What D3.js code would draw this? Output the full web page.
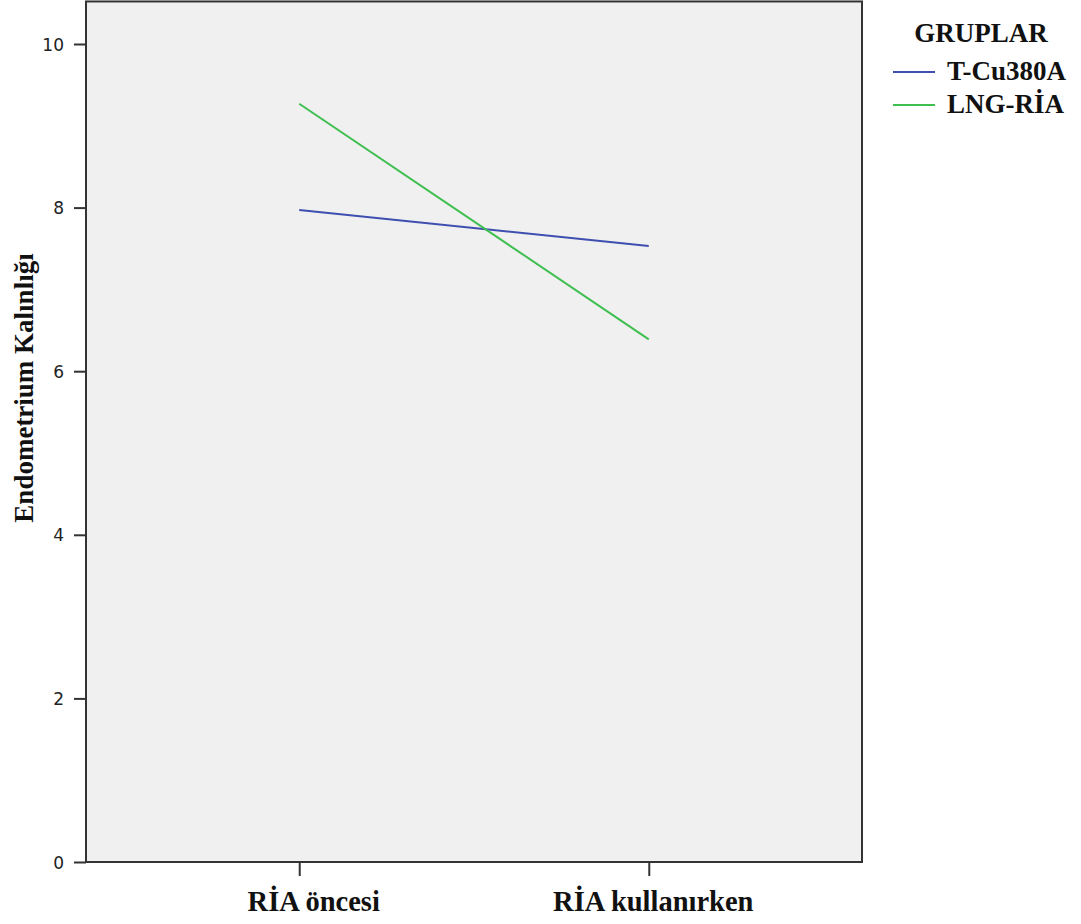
<!DOCTYPE html>
<html><head><meta charset="utf-8">
<script src="https://cdn.jsdelivr.net/npm/d3@7"></script>
<style>html,body{margin:0;padding:0;background:#fff;}</style>
</head><body>
<svg id="c" width="1081" height="924"></svg>
<script>
const categories = ["RİA öncesi", "RİA kullanırken"];
const groups = ["T-Cu380A", "LNG-RİA"];
const tcuValues = [7.97, 7.53];
const lngValues = [9.27, 6.39];
const yTicks = [0, 2, 4, 6, 8, 10];
const colors = ["#3f4fb0", "#3fbf50"];
const labelShift = [14, 4];

const svg = d3.select("#c");
const L = 86, R = 862, B = 862;
const y = d3.scaleLinear().domain([0, 10]).range([B, 44]);
const T = y(10.52);
const x = d3.scalePoint().domain(categories).range([L, R]).padding(0.61);

svg.append("rect").attr("x", L).attr("y", T).attr("width", R - L).attr("height", B - T)
  .attr("fill", "#f0f0f0").attr("stroke", "#333").attr("stroke-width", 2);

const yAxis = svg.append("g").attr("transform", `translate(${L},0)`)
  .call(d3.axisLeft(y).tickValues(yTicks).tickSize(12).tickPadding(10).tickFormat(d3.format("d")));
yAxis.select(".domain").remove();
yAxis.selectAll("line").attr("stroke", "#333").attr("stroke-width", 2);
yAxis.selectAll("text").attr("font-family", "DejaVu Sans").attr("font-size", 17).attr("fill", "#222")
  .attr("dy", "0.36em");

const xAxis = svg.append("g").attr("transform", `translate(0,${B})`)
  .call(d3.axisBottom(x).tickSize(14).tickPadding(0));
xAxis.select(".domain").remove();
xAxis.selectAll("line").attr("stroke", "#333").attr("stroke-width", 2);
xAxis.selectAll("text").attr("font-family", "Liberation Serif").attr("font-weight", "bold")
  .attr("font-size", 28.5).attr("fill", "#111").attr("y", 49).attr("dy", 0)
  .attr("dx", (d, i) => labelShift[i]);

svg.append("text").attr("transform", `translate(33,${388}) rotate(-90)`)
  .attr("text-anchor", "middle").attr("font-family", "Liberation Serif").attr("font-weight", "bold")
  .attr("font-size", 27).attr("fill", "#111").text("Endometrium Kalınlığı");

const series = [tcuValues, lngValues];
const line = d3.line().x((d, i) => x(categories[i])).y(d => y(d));
series.forEach((s, i) => {
  svg.append("path").datum(s).attr("d", line).attr("fill", "none")
    .attr("stroke", colors[i]).attr("stroke-width", 2);
});

svg.append("text").attr("x", 981).attr("y", 42).attr("text-anchor", "middle")
  .attr("font-family", "Liberation Serif").attr("font-weight", "bold").attr("font-size", 27)
  .attr("fill", "#111").text("GRUPLAR");
groups.forEach((g, i) => {
  const ly = 72 + i * 33;
  svg.append("line").attr("x1", 893).attr("x2", 935).attr("y1", ly).attr("y2", ly)
    .attr("stroke", colors[i]).attr("stroke-width", 2);
  svg.append("text").attr("x", 947).attr("y", ly + 8).attr("font-family", "Liberation Serif")
    .attr("font-weight", "bold").attr("font-size", 27).attr("fill", "#111").text(g);
});
</script>
</body></html>
